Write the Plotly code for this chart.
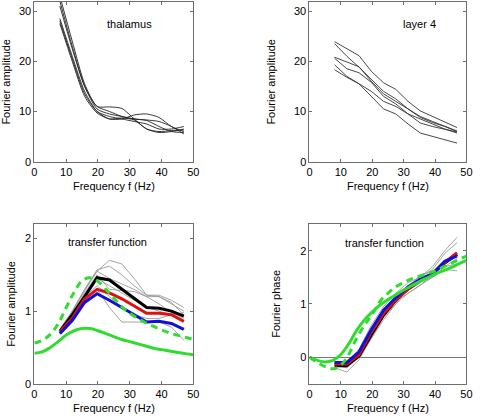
import plotly.graph_objects as go

# Frequencies of measured points (Hz)
freq = [8, 11.9, 15.8, 19.7, 23.6, 27.5, 31.4, 35.3, 39.2, 43.1, 47]
# Dense frequency grid for the model (green) curves
freq_model = [0, 2.5, 5, 7.5, 10, 12.5, 15, 17.5, 20, 22.5, 25, 27.5, 30,
              32.5, 35, 37.5, 40, 42.5, 45, 47.5, 50]

# Panel 1: thalamus Fourier amplitudes
thal_1 = [33, 24, 15.5, 11, 10.9, 10.6, 8.5, 6.5, 6, 6.2, 6.3]
thal_2 = [31, 22.5, 15, 10.5, 9.5, 9, 8.5, 8.3, 8, 7, 5.5]
thal_3 = [28.5, 21, 14, 10, 8.5, 8.5, 9.3, 9.5, 8.8, 7, 6]
thal_4 = [28, 20.5, 13.5, 10, 9, 8.5, 8, 7.5, 6.5, 6.5, 7]
thal_5 = [27.5, 20, 13, 9.7, 8.5, 8.7, 8.3, 6.5, 5.8, 6, 6.5]
thal_6 = [32, 23, 15, 11, 10, 9, 8.5, 8.2, 7, 6, 5.8]

# Panel 2: layer 4 Fourier amplitudes
l4_1 = [23.9, 22.5, 21.1, 18, 15.7, 14.4, 12, 10.1, 9, 7.9, 6.8]
l4_2 = [23.5, 21, 18.8, 16.5, 14, 12.5, 10.5, 8.8, 7.8, 7, 6.0]
l4_3 = [20.8, 19.8, 18.9, 16, 13.5, 12, 10.5, 9, 8, 7, 6.1]
l4_4 = [20.6, 18.5, 17.7, 15.8, 13, 11.5, 9.5, 7.7, 7, 6.5, 5.9]
l4_5 = [19.3, 17, 15.5, 14, 12, 11, 9.5, 8.5, 7.5, 6.5, 5.7]
l4_6 = [18.3, 16.8, 15.5, 13, 10.5, 9.5, 7.5, 5.7, 5, 4.4, 3.7]

# Panel 3: transfer function amplitude
amp_gray = [
    [0.75, 1.0, 1.3, 1.55, 1.7, 1.65, 1.45, 1.22, 1.2, 1.1, 1.0],
    [0.75, 1.0, 1.3, 1.57, 1.62, 1.5, 1.35, 1.22, 1.22, 1.15, 1.05],
    [0.73, 0.98, 1.28, 1.55, 1.45, 1.38, 1.3, 1.2, 1.2, 1.12, 0.95],
    [0.72, 0.95, 1.25, 1.5, 1.3, 1.28, 1.27, 1.2, 1.1, 0.98, 0.9],
    [0.7, 0.9, 1.2, 1.35, 1.2, 1.05, 0.95, 0.9, 0.9, 0.95, 0.98],
    [0.7, 0.9, 1.15, 1.3, 1.05, 0.85, 0.85, 0.85, 0.85, 0.78, 0.6],
    [0.72, 0.95, 1.22, 1.45, 1.35, 1.25, 1.15, 1.05, 1.0, 0.95, 0.85],
]
amp_black = [0.72, 0.95, 1.2, 1.46, 1.43, 1.3, 1.17, 1.05, 1.04, 1.0, 0.93]
amp_red = [0.72, 0.9, 1.17, 1.30, 1.25, 1.17, 1.07, 0.97, 0.97, 0.95, 0.86]
amp_blue = [0.69, 0.87, 1.12, 1.24, 1.15, 1.05, 0.95, 0.85, 0.86, 0.83, 0.75]
amp_model_dash = [0.56, 0.6, 0.68, 0.83, 1.05, 1.26, 1.42, 1.46, 1.41, 1.3, 1.18,
                  1.06, 0.97, 0.9, 0.84, 0.79, 0.74, 0.70, 0.67, 0.64, 0.61]
amp_model_solid = [0.42, 0.44, 0.5, 0.58, 0.67, 0.73, 0.76, 0.76, 0.73, 0.69, 0.65,
                   0.61, 0.58, 0.55, 0.52, 0.49, 0.47, 0.45, 0.43, 0.415, 0.40]

# Panel 4: transfer function phase
ph_gray = [
    [-0.2, -0.28, -0.05, 0.35, 0.75, 1.05, 1.2, 1.35, 1.5, 1.65, 1.62],
    [-0.15, -0.15, 0.0, 0.45, 0.85, 1.15, 1.35, 1.5, 1.7, 2.0, 2.25],
    [-0.1, -0.1, 0.15, 0.6, 0.95, 1.2, 1.4, 1.5, 1.65, 1.95, 2.15],
    [-0.15, -0.2, 0.05, 0.4, 0.75, 1.0, 1.2, 1.35, 1.55, 1.8, 1.95],
    [-0.1, -0.12, 0.1, 0.5, 0.85, 1.1, 1.25, 1.4, 1.5, 1.7, 1.85],
    [-0.12, -0.15, 0.0, 0.35, 0.7, 1.0, 1.3, 1.55, 1.6, 1.7, 1.75],
]
ph_black = [-0.16, -0.16, 0.02, 0.42, 0.79, 1.07, 1.28, 1.44, 1.56, 1.77, 1.93]
ph_red = [-0.13, -0.13, 0.05, 0.47, 0.82, 1.08, 1.28, 1.45, 1.57, 1.78, 1.96]
ph_blue = [-0.1, -0.1, 0.1, 0.52, 0.88, 1.12, 1.32, 1.46, 1.57, 1.8, 1.9]
ph_model_dash = [0.0, -0.1, -0.18, -0.22, -0.15, 0.05, 0.35, 0.6, 0.8, 1.05, 1.2,
                 1.32, 1.4, 1.47, 1.52, 1.57, 1.62, 1.69, 1.76, 1.83, 1.9]
ph_model_solid = [0.0, -0.06, -0.09, -0.06, 0.05, 0.25, 0.5, 0.7, 0.85, 0.98, 1.08,
                  1.17, 1.26, 1.34, 1.42, 1.49, 1.56, 1.62, 1.68, 1.75, 1.82]

panel_labels = ["thalamus", "layer 4", "transfer function", "transfer function"]
x_title = "Frequency f (Hz)"
y_titles = ["Fourier amplitude", "Fourier amplitude", "Fourier amplitude", "Fourier phase"]

GREEN = "#2fdc2f"
FONT = "Liberation Sans"

fig = go.Figure()

def add(x, y, color, width, xa, ya, dash="solid", shape="linear", smoothing=1.0):
    line = dict(color=color, width=width, dash=dash, shape=shape)
    if shape == "spline":
        line["smoothing"] = smoothing
    fig.add_trace(go.Scatter(x=x, y=y, mode="lines", xaxis=xa, yaxis=ya,
                             line=line, showlegend=False, hoverinfo="skip"))

for c in [thal_1, thal_2, thal_3, thal_4, thal_5, thal_6]:
    add(freq, c, "#222222", 0.9, "x", "y", shape="spline", smoothing=0.7)
for c in [l4_1, l4_2, l4_3, l4_4, l4_5, l4_6]:
    add(freq, c, "#333333", 0.9, "x2", "y2")
for c in amp_gray:
    add(freq, c, "#9a9a9a", 0.9, "x3", "y3")
add(freq, amp_black, "black", 3, "x3", "y3")
add(freq, amp_red, "#e01010", 3, "x3", "y3")
add(freq, amp_blue, "#1010d8", 3, "x3", "y3")
add(freq_model, amp_model_dash, GREEN, 3, "x3", "y3", dash="7px,5px", shape="spline")
add(freq_model, amp_model_solid, GREEN, 3, "x3", "y3", shape="spline")
for c in ph_gray:
    add(freq, c, "#9a9a9a", 0.9, "x4", "y4")
add(freq, ph_black, "black", 3, "x4", "y4")
add(freq, ph_red, "#e01010", 3, "x4", "y4")
add(freq, ph_blue, "#1010d8", 3, "x4", "y4")
add(freq_model, ph_model_dash, GREEN, 3, "x4", "y4", dash="7px,5px", shape="spline")
add(freq_model, ph_model_solid, GREEN, 3, "x4", "y4", shape="spline")

xdom_l = [32 / 481, 194 / 481]
xdom_r = [312.3 / 481, 472.3 / 481]
ydom_t = [(420 - 164) / 420, (420 - 2) / 420]
ydom_b = [(420 - 389.3) / 420, (420 - 227.3) / 420]

axis_common = dict(showline=True, linecolor="#6e6e6e", linewidth=1, mirror="ticks",
                   ticks="inside", ticklen=3, tickcolor="#6e6e6e", showgrid=False,
                   zeroline=False, tickfont=dict(family=FONT, size=11, color="black"),
                   title_font=dict(family=FONT, size=11, color="black"))

xticks = [0, 10, 20, 30, 40, 50]
layout = dict(
    width=481, height=420, margin=dict(l=0, r=0, t=0, b=0),
    paper_bgcolor="white", plot_bgcolor="white",
    xaxis=dict(domain=xdom_l, anchor="y", range=[0, 50], tickvals=xticks,
               title=dict(text=x_title, standoff=5), **axis_common),
    yaxis=dict(domain=ydom_t, anchor="x", range=[0, 31.8], tickvals=[0, 10, 20, 30],
               title=dict(text=y_titles[0], standoff=6), **axis_common),
    xaxis2=dict(domain=xdom_r, anchor="y2", range=[0, 50], tickvals=xticks,
                title=dict(text=x_title, standoff=5), **axis_common),
    yaxis2=dict(domain=ydom_t, anchor="x2", range=[0, 31.8], tickvals=[0, 10, 20, 30],
                title=dict(text=y_titles[1], standoff=16), **axis_common),
    xaxis3=dict(domain=xdom_l, anchor="y3", range=[0, 50], tickvals=xticks,
                title=dict(text=x_title, standoff=5), **axis_common),
    yaxis3=dict(domain=ydom_b, anchor="x3", range=[0, 2.2], tickvals=[0, 1, 2],
                title=dict(text=y_titles[2], standoff=7), **axis_common),
    xaxis4=dict(domain=xdom_r, anchor="y4", range=[0, 50], tickvals=xticks,
                title=dict(text=x_title, standoff=5), **axis_common),
    yaxis4=dict(domain=ydom_b, anchor="x4", range=[-0.5, 2.5], tickvals=[0, 1, 2],
                title=dict(text=y_titles[3], standoff=17), **axis_common),
)
fig.update_layout(**layout)
fig.update_layout(yaxis4=dict(zeroline=True, zerolinecolor="#777777", zerolinewidth=1))

ann_pos = [("x", "y", 30, 27.5), ("x2", "y2", 35, 27.5),
           ("x3", "y3", 23, 1.95), ("x4", "y4", 24, 2.15)]
for (xa, ya, xv, yv), txt in zip(ann_pos, panel_labels):
    fig.add_annotation(x=xv, y=yv, xref=xa, yref=ya, text=txt, showarrow=False,
                       font=dict(family=FONT, size=11, color="black"))

fig.write_html("out.html", config={"displayModeBar": False},
               post_script="document.body.style.margin='0';document.body.style.overflow='hidden';")
